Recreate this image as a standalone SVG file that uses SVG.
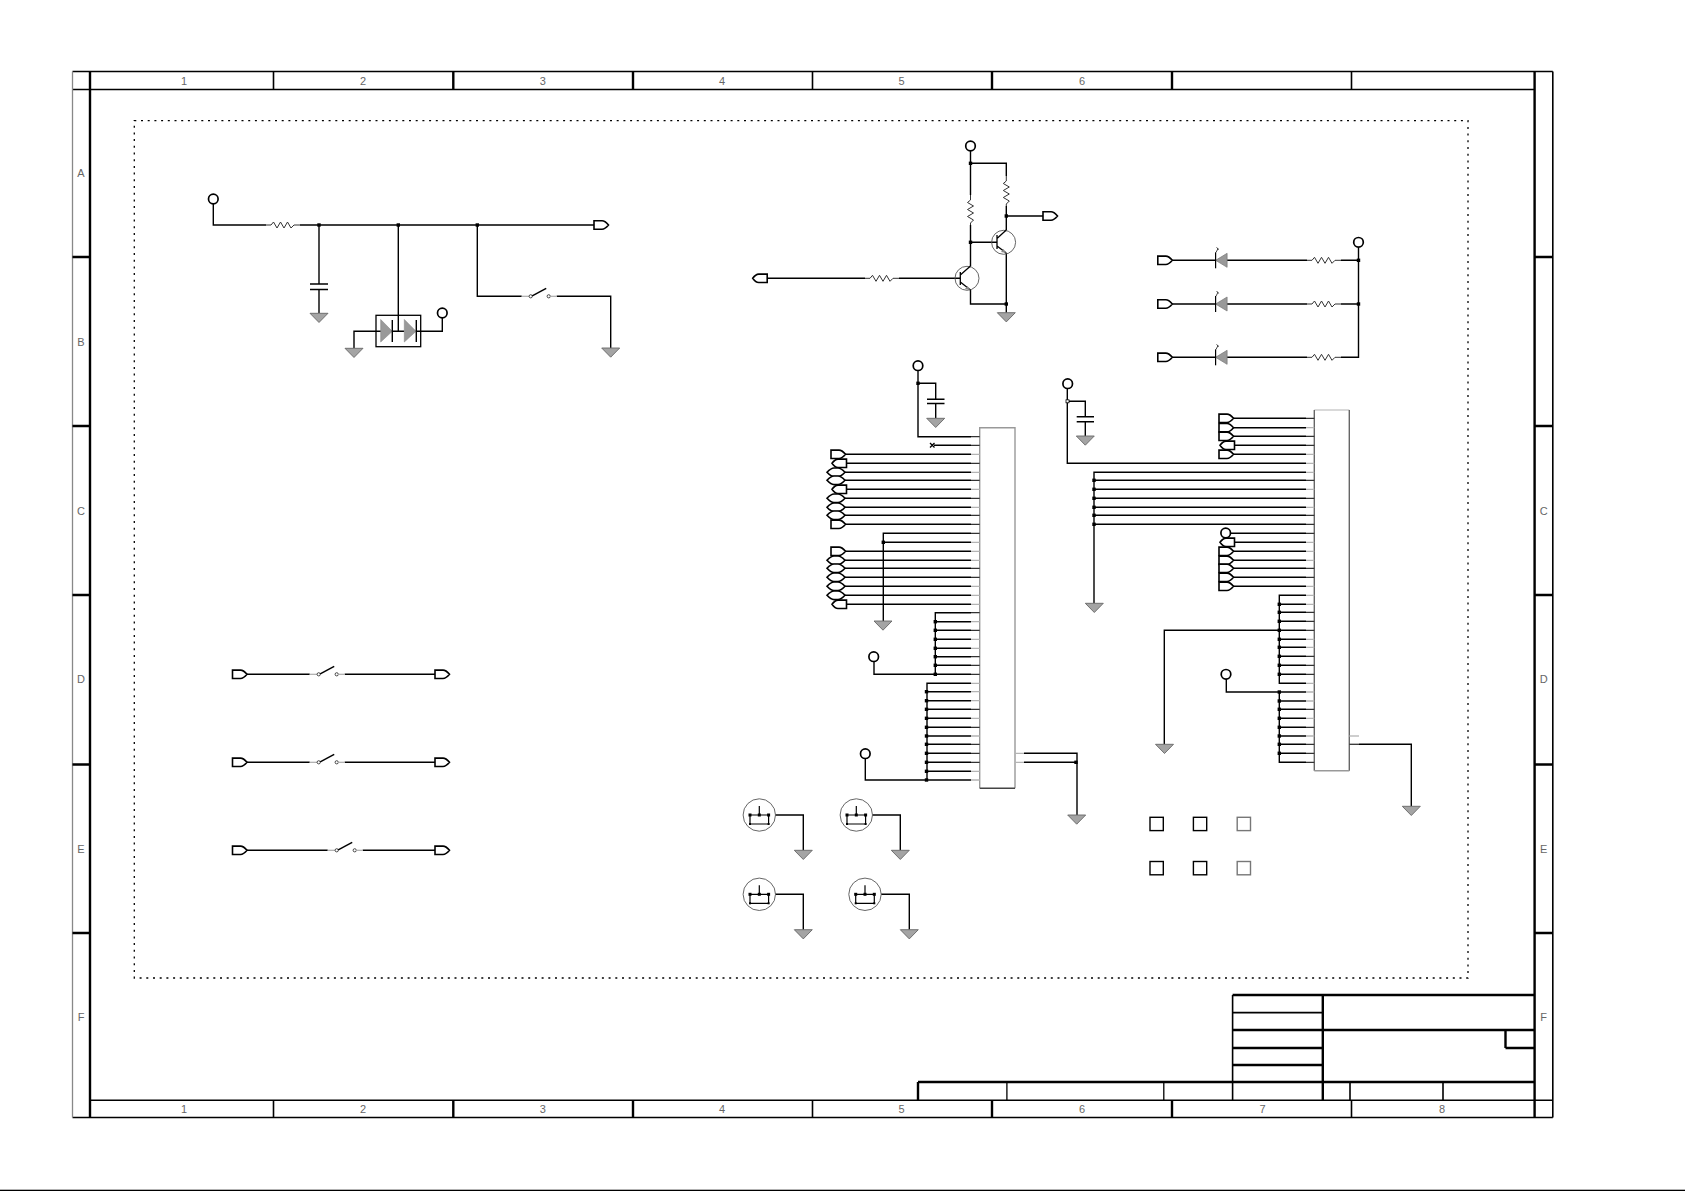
<svg xmlns="http://www.w3.org/2000/svg" width="1685" height="1191" viewBox="0 0 1685 1191">
<style>
text{font-family:"Liberation Sans",Arial,sans-serif;font-size:11px;fill:#666;text-anchor:middle;dominant-baseline:central}
.w{fill:none;stroke:#000;stroke-width:1.4}
.f{fill:none;stroke:#000;stroke-width:1.6}
.fb{fill:none;stroke:#000;stroke-width:2.4}
.ft{fill:none;stroke:#000;stroke-width:1.3}
.stubd{fill:none;stroke:#333;stroke-width:1.3}
.stubg{fill:none;stroke:#b4b4b4;stroke-width:1.3}
.chip{fill:none;stroke:#999;stroke-width:1.4}
.sq{fill:none;stroke:#000;stroke-width:1.4}
.sqg{fill:none;stroke:#777;stroke-width:1.4}
</style>
<defs>
<path id="pr" d="M0-4.2H8Q11-4.2 14.5 0Q11 4.2 8 4.2H0Z" fill="#fff" stroke="#000" stroke-width="1.6"/>
<path id="pl" d="M0 0Q3-4.2 6-4.2H14.5V4.2H6Q3 4.2 0 0Z" fill="#fff" stroke="#000" stroke-width="1.6"/>
<path id="pb" d="M0 0Q4-4.3 7-4.3H11Q14-4.3 18 0Q14 4.3 11 4.3H7Q4 4.3 0 0Z" fill="#fff" stroke="#000" stroke-width="1.6"/>
<path id="gnd" d="M-9 0H9L0 9.2Z" fill="#a4a4a4" stroke="#666" stroke-width=".9"/>
<circle id="port" r="4.8" fill="#fff" stroke="#000" stroke-width="1.7"/>
<rect id="dot" x="-1.7" y="-1.7" width="3.4" height="3.4" fill="#000"/>
<path id="rh" d="M0 0H5L7.5-3 11 3 14.5-3 18 3 21.5-3 25 3 28 0H34" fill="none" stroke="#333" stroke-width="1"/>
<path id="rv" d="M0 0V5L-3 7.5 3 11-3 14.5 3 18-3 21.5 3 25 0 28V30" fill="none" stroke="#333" stroke-width="1"/>
<g id="sw">
<path d="M-9 0H-1.5" stroke="#aaa" stroke-width="1.2" fill="none"/>
<circle r="1.6" fill="#fff" stroke="#333" stroke-width=".9"/>
<path d="M1.5-.5L15.5-8" stroke="#000" stroke-width="1.5" fill="none"/>
<circle cx="18" r="1.6" fill="#fff" stroke="#333" stroke-width=".9"/>
<path d="M19.5 0H26" stroke="#aaa" stroke-width="1.2" fill="none"/>
</g>
<g id="led">
<path d="M0 0L11.5-7V7Z" fill="#999" stroke="#777" stroke-width=".7"/>
<path d="M0-8V8" stroke="#000" stroke-width="1.2" fill="none"/>
<path d="M.5-8L2.5-12M3-10.5L1-13" stroke="#333" stroke-width=".9" fill="none"/>
</g>
<g id="hole">
<circle r="16.2" fill="#fff" stroke="#555" stroke-width=".9"/>
<path d="M-9.3 0H9.3M0-9V0M-9.3 0V9H9.3V0" fill="none" stroke="#000" stroke-width="1.2"/>
<rect x="-10.8" y="-1.5" width="3" height="3" fill="#000"/><rect x="-1.5" y="-1.5" width="3" height="3" fill="#000"/><rect x="7.8" y="-1.5" width="3" height="3" fill="#000"/>
<rect x="-10.3" y="8" width="2" height="2" fill="#000"/><rect x="8.3" y="8" width="2" height="2" fill="#000"/>
</g>
</defs>
<rect width="1685" height="1191" fill="#fff"/>
<rect y="1189.7" width="1685" height="1.3" fill="#000"/>

<g id="frame">
<path class="f" d="M72.5 71.5H1552.8M72.5 89.5H1534.6M90 1100.3H1552.8M72.5 1117.5H1552.8"/>
<path d="M72.5 71.5V1117.5" fill="none" stroke="#888" stroke-width="1.3"/>
<path d="M1552.8 71.5V1117.5" fill="none" stroke="#000" stroke-width="1.6"/>
<path class="fb" d="M90 71.5V1117.5M1534.6 71.5V1117.5"/>
<path class="f" d="M273.5 71.5V89.5M812.5 71.5V89.5M1351.5 71.5V89.5M273.5 1100V1117.5M812.5 1100V1117.5M1351.5 1100V1117.5"/>
<path class="fb" d="M453.3 71.5V89.5M633 71.5V89.5M992 71.5V89.5M1172 71.5V89.5M453.3 1100V1117.5M633 1100V1117.5M992 1100V1117.5M1172 1100V1117.5"/>
<path class="fb" d="M72.5 257H90M72.5 426H90M72.5 595H90M72.5 764.5H90M72.5 933H90M1534.6 257H1552.8M1534.6 426H1552.8M1534.6 595H1552.8M1534.6 764.5H1552.8M1534.6 933H1552.8"/>
<path d="M134.3 120.6H1468V978H134.3Z" fill="none" stroke="#000" stroke-width="1.3" stroke-dasharray="2 4.7"/>
<g id="labels">
<text x="184" y="80.7">1</text><text x="363" y="80.7">2</text><text x="542.7" y="80.7">3</text><text x="722" y="80.7">4</text><text x="901.6" y="80.7">5</text><text x="1082" y="80.7">6</text>
<text x="184" y="1109">1</text><text x="363" y="1109">2</text><text x="542.7" y="1109">3</text><text x="722" y="1109">4</text><text x="901.6" y="1109">5</text><text x="1082" y="1109">6</text><text x="1262.6" y="1109">7</text><text x="1442" y="1109">8</text>
<text x="81" y="173">A</text><text x="81" y="342">B</text><text x="81" y="510.6">C</text><text x="81" y="679">D</text><text x="81" y="849">E</text><text x="81" y="1017">F</text>
<text x="1543.7" y="510.6">C</text><text x="1543.7" y="679">D</text><text x="1543.7" y="849">E</text><text x="1543.7" y="1017">F</text>
</g>
</g>

<g id="title-block">
<path class="fb" d="M1232.6 995H1534.6M1232.6 1030H1534.6M1232.6 1048H1322.8M1505.5 1048H1534.6M1232.6 1065H1322.8M918 1082H1534.6M1322.8 995V1100M1505.5 1030V1048M918 1082V1100"/>
<path class="f" d="M1232.6 1012.6H1322.8M1232.6 995V1100M1350 1082V1100M1443 1082V1100"/>
<path class="ft" d="M1006.9 1082V1100M1163.8 1082V1100"/>
</g>

<g id="connectors">
<path class="w" d="M213.3 203.5V225H266M300 225H594M319 225V284M319 289.5V313M398.3 225V331M354 348.3V331.3H381M392.3 331.3H404.3M416.3 331.3H442.3V317.5M477.3 225V296.3H521.7M556.7 296.3H610.7V348"/>
<path class="w" d="M246.7 674.3H309.7M344.7 674.3H435M246.7 762.3H309.7M344.7 762.3H435M246.7 850.3H327.7M362.7 850.3H435"/>
<path class="w" d="M970.5 150.5V195M970.5 225V266M970.5 290V304H1006.3M970.5 163.3H1006.3V176M1006.3 206V230M1006.3 216H1043M1006.3 253V312.7M970.5 242.3H997M767 278.3H865M899 278.3H960.3"/>
<path class="w" d="M1172.3 260.3H1215.6M1226.8 260.3H1307M1341 260.3H1358.5M1172.3 304H1215.6M1226.8 304H1307M1341 304H1358.5M1172.3 357.3H1215.6M1226.8 357.3H1307M1341 357.3H1358.5V247"/>
<path class="w" d="M918 370V436.7H971M918 383.3H935.7V399.3M935.7 403.5V418.3M934 445.3H971"/>
<path class="w" d="M845 454.3H971M845 463.3H971M845 472.3H971M845 480.3H971M845 489.3H971M845 498.3H971M845 507.3H971M845 515.3H971M845 524.3H971"/>
<path class="w" d="M971 533.3H883.3V621M883.3 542.3H971"/>
<path class="w" d="M845 551.3H971M845 560.3H971M845 568.3H971M845 577.3H971M845 586.3H971M845 595.3H971M845 604.3H971"/>
<path class="w" d="M971 612.7H935.3V674.3H874V661M935.3 621.7H971M935.3 630.3H971M935.3 639.3H971M935.3 648.3H971M935.3 656.7H971M935.3 665.3H971M935.3 674.3H971"/>
<path class="w" d="M971 683.3H927V780H865.3V758M927 691.7H971M927 700.7H971M927 709.3H971M927 718.3H971M927 727.3H971M927 736H971M927 744.3H971M927 753.3H971M927 762.3H971M927 771.3H971M927 780H971"/>
<path class="w" d="M1024 753.3H1077V815M1024 762.3H1077"/>
<path class="w" d="M1067.3 388V463.3H1306M1067.3 401.3H1085.3V416.7M1085.3 421.7V436"/>
<path class="w" d="M1232.7 418.3H1306M1232.7 427.7H1306M1232.7 436.3H1306M1232.7 445.3H1306M1232.7 454.3H1306"/>
<path class="w" d="M1306 472.3H1094V603.3M1094 480.3H1306M1094 489.3H1306M1094 498.3H1306M1094 507.3H1306M1094 515.3H1306M1094 524.3H1306"/>
<path class="w" d="M1230 533.3H1306M1232.7 542.3H1306M1232.7 551.3H1306M1232.7 560.3H1306M1232.7 568.3H1306M1232.7 577.3H1306M1232.7 586.3H1306"/>
<path class="w" d="M1306 595.3H1279.3V683.3H1306M1279.3 604.3H1306M1279.3 612.3H1306M1279.3 621.3H1306M1164.3 744.3V630.3H1306M1279.3 639.3H1306M1279.3 647.3H1306M1279.3 656.3H1306M1279.3 665.3H1306M1279.3 674.3H1306"/>
<path class="w" d="M1226.3 679V692H1306M1279.3 692V762.3H1306M1279.3 701H1306M1279.3 709.3H1306M1279.3 718.3H1306M1279.3 727.3H1306M1279.3 736H1306M1279.3 744.3H1306M1279.3 753.3H1306"/>
<path class="w" d="M1359 744.3H1411.3V806.3"/>
<path class="w" d="M768.7 815H803.3V850.3M865.7 815H900.3V850.3M768.7 894.3H803.3V929.7M874.3 894.3H909.3V929.7"/>
</g>

<g id="input-network">
<use href="#port" x="213.3" y="199"/><use href="#rh" x="266" y="225"/>
<use href="#dot" x="319" y="225"/><use href="#dot" x="398.3" y="225"/><use href="#dot" x="477.3" y="225"/>
<use href="#pr" x="594" y="225"/>
<path class="w" d="M310 284H328M310 289.5H328"/>
<use href="#gnd" x="319" y="313.3"/>
</g>
<g id="diode-pair">
<rect x="376" y="315.3" width="44.7" height="31.4" fill="none" stroke="#000" stroke-width="1.3"/>
<path d="M380.7 319.5L392.3 331.3 380.7 342Z" fill="#999" stroke="#888" stroke-width=".6"/><path class="w" d="M392.3 320V342"/>
<path d="M404.3 319.5L416 331.3 404.3 342Z" fill="#999" stroke="#888" stroke-width=".6"/><path class="w" d="M416.3 320V342"/>
<use href="#port" x="442.3" y="313"/><use href="#gnd" x="354" y="348.3"/>
</g>
<g id="switch-1"><use href="#sw" x="530.7" y="296.3"/><use href="#gnd" x="610.7" y="348"/></g>
<g id="switch-d1"><use href="#pr" x="232.5" y="674.3"/><use href="#sw" x="318.7" y="674.3"/><use href="#pr" x="435" y="674.3"/></g>
<g id="switch-d2"><use href="#pr" x="232.5" y="762.3"/><use href="#sw" x="318.7" y="762.3"/><use href="#pr" x="435" y="762.3"/></g>
<g id="switch-d3"><use href="#pr" x="232.5" y="850.3"/><use href="#sw" x="336.7" y="850.3"/><use href="#pr" x="435" y="850.3"/></g>

<g id="transistor-stage">
<use href="#port" x="970.5" y="146"/><use href="#dot" x="970.5" y="163.3"/><use href="#dot" x="1006.3" y="216"/><use href="#dot" x="970.5" y="242.3"/><use href="#dot" x="1006.3" y="304"/>
<use href="#rv" x="970.5" y="195"/><use href="#rv" x="1006.3" y="176"/>
<use href="#rh" x="865" y="278.3"/>
<use href="#pr" x="1043" y="216"/><use href="#pl" x="752.7" y="278.3"/>
<circle cx="1003.6" cy="242.3" r="12" fill="none" stroke="#555" stroke-width=".9"/>
<path d="M997 235V249M997 238.5L1006.3 230M997 246L1006.3 253" fill="none" stroke="#000" stroke-width="1.3"/>
<path d="M1006 253L1001 252L1003.5 249Z" fill="#888"/>
<circle cx="967" cy="278.3" r="12" fill="none" stroke="#555" stroke-width=".9"/>
<path d="M960.3 272V285M960.3 275L970.5 266M960.3 282L970.5 290" fill="none" stroke="#000" stroke-width="1.3"/>
<path d="M970 290L965 289L967.5 286Z" fill="#888"/>
<use href="#gnd" x="1006.3" y="312.7"/>
</g>

<g id="led-bank">
<use href="#port" x="1358.5" y="242.3"/><use href="#dot" x="1358.5" y="260.3"/><use href="#dot" x="1358.5" y="304"/>
<use href="#pr" x="1157.8" y="260.3"/><use href="#pr" x="1157.8" y="304"/><use href="#pr" x="1157.8" y="357.3"/>
<use href="#led" x="1215.6" y="260.3"/><use href="#led" x="1215.6" y="304"/><use href="#led" x="1215.6" y="357.3"/>
<use href="#rh" x="1307" y="260.3"/><use href="#rh" x="1307" y="304"/><use href="#rh" x="1307" y="357.3"/>
</g>

<g id="connector-j1">
<path class="chip" d="M979.7 788.3V427.7H1015V788.3"/><path d="M979.7 788.3H1015" fill="none" stroke="#444" stroke-width="1.4"/>
<path class="stubd" d="M971 436.7H979.7M971 445.3H979.7M971 463.3H979.7M971 480.3H979.7M971 498.3H979.7M971 515.3H979.7M971 524.3H979.7M971 533.3H979.7M971 568.3H979.7M971 577.3H979.7M971 612.7H979.7M971 630.3H979.7M971 656.7H979.7M971 665.3H979.7M971 674.3H979.7M971 709.3H979.7M971 727.3H979.7M971 744.3H979.7M971 753.3H979.7M971 762.3H979.7"/>
<path class="stubg" d="M971 454.3H979.7M971 472.3H979.7M971 489.3H979.7M971 507.3H979.7M971 542.3H979.7M971 551.3H979.7M971 560.3H979.7M971 586.3H979.7M971 595.3H979.7M971 604.3H979.7M971 621.7H979.7M971 639.3H979.7M971 648.3H979.7M971 683.3H979.7M971 691.7H979.7M971 700.7H979.7M971 718.3H979.7M971 736H979.7M971 771.3H979.7M971 780H979.7"/>
<path class="stubg" d="M1015 753.3H1024M1015 762.3H1024"/>
<use href="#port" x="918" y="365.7"/><use href="#dot" x="918" y="383.3"/>
<path class="w" d="M927 399.3H944.5M927 403.5H944.5"/><use href="#gnd" x="935.7" y="418.3"/>
<path d="M930 443L934.5 447.5M934.5 443L930 447.5" stroke="#000" stroke-width="1.3" fill="none"/>
<use href="#pr" x="831" y="454.3"/><use href="#pl" x="832" y="463.3"/><use href="#pb" x="827" y="472.3"/><use href="#pb" x="827" y="480.3"/><use href="#pl" x="832" y="489.3"/><use href="#pb" x="827" y="498.3"/><use href="#pb" x="827" y="507.3"/><use href="#pb" x="827" y="515.3"/><use href="#pr" x="831" y="524.3"/>
<use href="#dot" x="883.3" y="542.3"/><use href="#gnd" x="883" y="621"/>
<use href="#pr" x="831" y="551.3"/><use href="#pb" x="827" y="560.3"/><use href="#pb" x="827" y="568.3"/><use href="#pb" x="827" y="577.3"/><use href="#pb" x="827" y="586.3"/><use href="#pb" x="827" y="595.3"/><use href="#pl" x="832" y="604.3"/>
<use href="#dot" x="935.3" y="621.7"/><use href="#dot" x="935.3" y="630.3"/><use href="#dot" x="935.3" y="639.3"/><use href="#dot" x="935.3" y="648.3"/><use href="#dot" x="935.3" y="656.7"/><use href="#dot" x="935.3" y="665.3"/><use href="#dot" x="935.3" y="674.3"/>
<use href="#port" x="873.7" y="656.7"/>
<use href="#dot" x="926.5" y="691.7"/><use href="#dot" x="926.5" y="700.7"/><use href="#dot" x="926.5" y="709.3"/><use href="#dot" x="926.5" y="718.3"/><use href="#dot" x="926.5" y="727.3"/><use href="#dot" x="926.5" y="736"/><use href="#dot" x="926.5" y="744.3"/><use href="#dot" x="926.5" y="753.3"/><use href="#dot" x="926.5" y="762.3"/><use href="#dot" x="926.5" y="771.3"/><use href="#dot" x="926.5" y="780"/>
<use href="#port" x="865.3" y="753.7"/>
<use href="#dot" x="1076" y="762.3"/><use href="#gnd" x="1076.7" y="815"/>
</g>

<g id="connector-j2">
<path d="M1314.3 410H1349.3" fill="none" stroke="#ccc" stroke-width="1.4"/><path d="M1314.3 410V770.7M1349.3 410V770.7" fill="none" stroke="#666" stroke-width="1.4"/><path d="M1314.3 770.7H1349.3" fill="none" stroke="#999" stroke-width="1.4"/>
<path class="stubd" d="M1306 418.3H1314.3M1306 436.3H1314.3M1306 445.3H1314.3M1306 480.3H1314.3M1306 498.3H1314.3M1306 515.3H1314.3M1306 524.3H1314.3M1306 533.3H1314.3M1306 568.3H1314.3M1306 577.3H1314.3M1306 612.3H1314.3M1306 621.3H1314.3M1306 630.3H1314.3M1306 656.3H1314.3M1306 665.3H1314.3M1306 674.3H1314.3M1306 709.3H1314.3M1306 727.3H1314.3M1306 744.3H1314.3M1306 753.3H1314.3M1306 762.3H1314.3"/>
<path class="stubg" d="M1306 427.7H1314.3M1306 454.3H1314.3M1306 463.3H1314.3M1306 472.3H1314.3M1306 489.3H1314.3M1306 507.3H1314.3M1306 542.3H1314.3M1306 551.3H1314.3M1306 560.3H1314.3M1306 586.3H1314.3M1306 595.3H1314.3M1306 604.3H1314.3M1306 639.3H1314.3M1306 647.3H1314.3M1306 683.3H1314.3M1306 692H1314.3M1306 701H1314.3M1306 718.3H1314.3M1306 736H1314.3"/>
<path class="stubg" d="M1349.3 736H1359"/><path class="stubd" d="M1349.3 744.3H1359"/>
<use href="#port" x="1067.7" y="383.7"/>
<rect x="1066" y="399.8" width="3" height="3" fill="#fff" stroke="#000" stroke-width=".8"/>
<path class="w" d="M1076.7 416.7H1094M1076.7 421.7H1094"/><use href="#gnd" x="1085.3" y="436"/>
<use href="#pr" x="1219" y="418.3"/><use href="#pr" x="1219" y="427.7"/><use href="#pr" x="1219" y="436.3"/><use href="#pl" x="1220" y="445.3"/><use href="#pr" x="1219" y="454.3"/>
<use href="#dot" x="1094" y="480.3"/><use href="#dot" x="1094" y="489.3"/><use href="#dot" x="1094" y="498.3"/><use href="#dot" x="1094" y="507.3"/><use href="#dot" x="1094" y="515.3"/><use href="#dot" x="1094" y="524.3"/>
<use href="#gnd" x="1094.3" y="603.3"/>
<use href="#port" x="1225.7" y="533"/><use href="#pl" x="1220" y="542.3"/><use href="#pr" x="1219" y="551.3"/><use href="#pr" x="1219" y="560.3"/><use href="#pr" x="1219" y="568.3"/><use href="#pr" x="1219" y="577.3"/><use href="#pr" x="1219" y="586.3"/>
<use href="#dot" x="1279.3" y="604.3"/><use href="#dot" x="1279.3" y="612.3"/><use href="#dot" x="1279.3" y="621.3"/><use href="#dot" x="1279.3" y="630.3"/><use href="#dot" x="1279.3" y="639.3"/><use href="#dot" x="1279.3" y="647.3"/><use href="#dot" x="1279.3" y="656.3"/><use href="#dot" x="1279.3" y="665.3"/><use href="#dot" x="1279.3" y="674.3"/>
<use href="#gnd" x="1164.5" y="744.3"/>
<use href="#port" x="1226" y="674.3"/>
<use href="#dot" x="1279.3" y="692"/><use href="#dot" x="1279.3" y="701"/><use href="#dot" x="1279.3" y="709.3"/><use href="#dot" x="1279.3" y="718.3"/><use href="#dot" x="1279.3" y="727.3"/><use href="#dot" x="1279.3" y="736"/><use href="#dot" x="1279.3" y="744.3"/><use href="#dot" x="1279.3" y="753.3"/>
<use href="#gnd" x="1411.3" y="806.3"/>
</g>

<g id="mount-1"><use href="#hole" x="759.3" y="815"/><use href="#gnd" x="803.3" y="850.3"/></g>
<g id="mount-2"><use href="#hole" x="856.3" y="815"/><use href="#gnd" x="900.3" y="850.3"/></g>
<g id="mount-3"><use href="#hole" x="759.3" y="894.3"/><use href="#gnd" x="803.3" y="929.7"/></g>
<g id="mount-4"><use href="#hole" x="865" y="894.3"/><use href="#gnd" x="909.3" y="929.7"/></g>

<g id="test-points">
<rect class="sq" x="1150" y="817.3" width="13.3" height="13.3"/><rect class="sq" x="1193.4" y="817.3" width="13.3" height="13.3"/><rect class="sqg" x="1237.2" y="817.3" width="13.3" height="13.3"/>
<rect class="sq" x="1150" y="861.5" width="13.3" height="13.3"/><rect class="sq" x="1193.4" y="861.5" width="13.3" height="13.3"/><rect class="sqg" x="1237.2" y="861.5" width="13.3" height="13.3"/>
</g>
</svg>
